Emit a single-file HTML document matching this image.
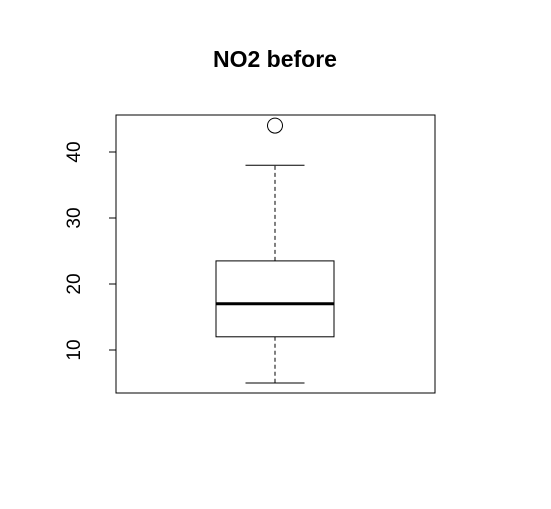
<!DOCTYPE html>
<html><head><meta charset="utf-8"><style>
html,body{margin:0;padding:0;background:#fff;}
svg{display:block;font-family:"Liberation Sans",Arial,sans-serif;}
</style></head><body>
<svg id="chart" width="551" height="509" viewBox="0 0 551 509">
<rect width="551" height="509" fill="#fff"/>
<text x="275" y="67" text-anchor="middle" font-size="23" font-weight="bold">NO2 before</text>
<rect x="116" y="115" width="319" height="278" fill="none" stroke="#000" stroke-width="1"/>
<g id="axis"></g>
<g id="box"></g>
</svg>
<script>
const yTicks = [10, 20, 30, 40];
const stats = [5, 12, 17, 23.5, 38]; // min, q1, median, q3, max
const outliers = [44];

const NS = "http://www.w3.org/2000/svg";
function y(v){ return 350 - (v - 10) * 6.6; }
const cx = 275, boxHalf = 59, capHalf = 29.5;
function mk(tag, attrs, parent){
  const e = document.createElementNS(NS, tag);
  for (const k in attrs) e.setAttribute(k, attrs[k]);
  parent.appendChild(e); return e;
}
const axis = document.getElementById('axis');
const axisLine = mk('line', {x1:116, x2:116, y1:y(yTicks[0]), y2:y(yTicks[yTicks.length-1]), stroke:'#000'}, axis);


yTicks.forEach(t => {
  const l = mk('line', {x1:109, x2:116, y1:y(t), y2:y(t), stroke:'#000'}, axis);
  
  
  const tx = mk('text', {x:80, y:y(t), 'text-anchor':'middle', 'font-size':'19', transform:`rotate(-90 80 ${y(t)})`}, axis);
  tx.textContent = t;
  
  
});
const box = document.getElementById('box');
const [mn, q1, md, q3, mx] = stats;
const wl = mk('line', {x1:cx, x2:cx, y1:y(q1), y2:y(mn), stroke:'#000', 'stroke-dasharray':'4,3'}, box);


const wu = mk('line', {x1:cx, x2:cx, y1:y(q3), y2:y(mx), stroke:'#000', 'stroke-dasharray':'4,3'}, box);


const cl = mk('line', {x1:cx-capHalf, x2:cx+capHalf, y1:y(mn), y2:y(mn), stroke:'#000'}, box);


const cu = mk('line', {x1:cx-capHalf, x2:cx+capHalf, y1:y(mx), y2:y(mx), stroke:'#000'}, box);


const r = mk('rect', {x:cx-boxHalf, y:y(q3), width:2*boxHalf, height:y(q1)-y(q3), fill:'#fff', stroke:'#000'}, box);


const m = mk('line', {x1:cx-boxHalf, x2:cx+boxHalf, y1:y(md), y2:y(md), stroke:'#000', 'stroke-width':3}, box);


outliers.forEach(o => {
  const c = mk('circle', {cx:cx, cy:y(o), r:7.5, fill:'none', stroke:'#000'}, box);
  
  
});
</script>
</body></html>
